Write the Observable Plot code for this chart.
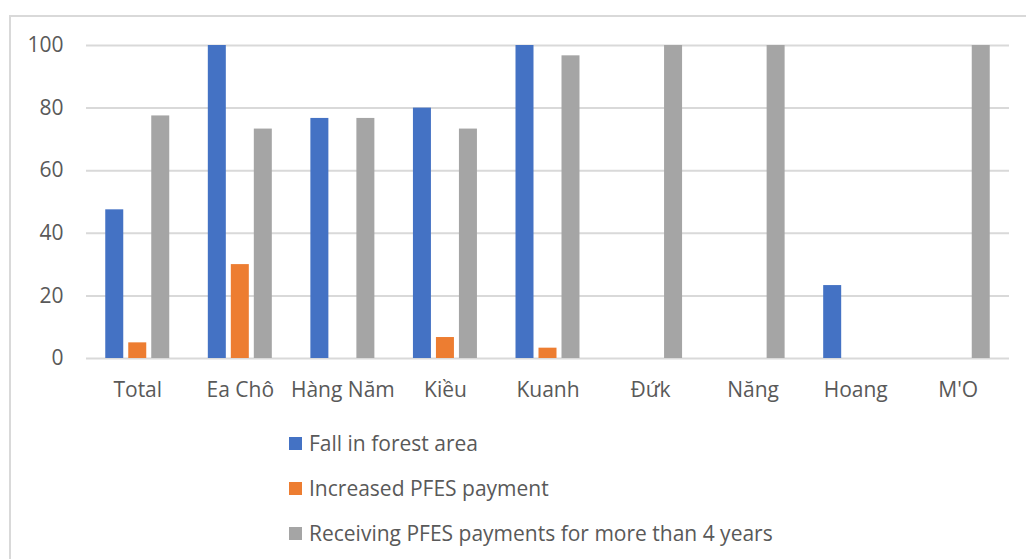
<!DOCTYPE html>
<html>
<head>
<meta charset="utf-8">
<script src="https://cdn.jsdelivr.net/npm/d3@7"></script>
<script src="https://cdn.jsdelivr.net/npm/@observablehq/plot@0.6"></script>
<style>
  body { margin: 0; background: #fff; width: 1026px; height: 559px; overflow: hidden; position: relative; font-family: "Open Sans", sans-serif; }
  #frame { position: absolute; left: 9px; top: 15px; width: 1100px; height: 700px; border-top: 2px solid #d9d9d9; border-left: 2px solid #d9d9d9; }
  #chart { position: absolute; left: 0; top: 0; }
  #legend { position: absolute; left: 289px; top: 0; color: #595959; font-size: 21px; }
  .row { position: absolute; left: 0; white-space: nowrap; display: flex; align-items: center; height: 30px; }
  .sw { width: 13px; height: 13px; margin-right: 7px; }
</style>
</head>
<body>
<div id="frame"></div>
<div id="chart"></div>
<div id="legend"></div>
<script>
const categories = ["Total", "Ea Chô", "Hàng Năm", "Kiều", "Kuanh", "Đứk", "Năng", "Hoang", "M'O"];
const seriesNames = ["Fall in forest area", "Increased PFES payment", "Receiving PFES payments for more than 4 years"];
const fallInForestArea = [47.5, 100, 76.7, 80, 100, 0, 0, 23.3, 0];
const increasedPayment = [5, 30, 0, 6.7, 3.3, 0, 0, 0, 0];
const receivingOver4Years = [77.5, 73.3, 76.7, 73.3, 96.7, 100, 100, 0, 100];
const yTicks = [0, 20, 40, 60, 80, 100];
const colors = ["#4472c4", "#ed7d31", "#a5a5a5"];

const seriesValues = [fallInForestArea, increasedPayment, receivingOver4Years];
const seriesOffsets = [-23, 0, 23];

const barMarks = seriesNames.map((s, j) => {
  const rows = categories.map((c, i) => ({category: c, series: s, value: seriesValues[j][i]})).filter(d => d.value > 0);
  return Plot.barY(rows, {x: "category", y: "value", fill: "series", dx: seriesOffsets[j]});
});

const chart = Plot.plot({
  width: 1026,
  height: 420,
  marginLeft: 86,
  marginRight: 17,
  marginTop: 45,
  marginBottom: 62,
  style: {fontFamily: "'Open Sans', sans-serif", fontSize: "21px", color: "#595959", background: "transparent"},
  x: {domain: categories, paddingInner: 0.8245, paddingOuter: 0.412, round: false, label: null, tickSize: 0, tickPadding: 24},
  y: {domain: [0, 100], ticks: yTicks, label: null, tickSize: 0, tickPadding: 23},
  color: {domain: seriesNames, range: colors},
  marks: [
    Plot.ruleY(yTicks, {stroke: "#d9d9d9", strokeWidth: 2}),
    ...barMarks
  ]
});
chart.querySelectorAll("text").forEach(t => t.setAttribute("fill", "#595959"));
document.getElementById("chart").appendChild(chart);

const legend = document.getElementById("legend");
const rowCenters = [443, 488, 533];
seriesNames.forEach((s, j) => {
  const row = document.createElement("div");
  row.className = "row";
  row.style.top = (rowCenters[j] - 15) + "px";
  const sw = document.createElement("div");
  sw.className = "sw";
  sw.style.background = colors[j];
  const label = document.createElement("span");
  label.textContent = s;
  row.appendChild(sw);
  row.appendChild(label);
  legend.appendChild(row);
});
</script>
</body>
</html>
